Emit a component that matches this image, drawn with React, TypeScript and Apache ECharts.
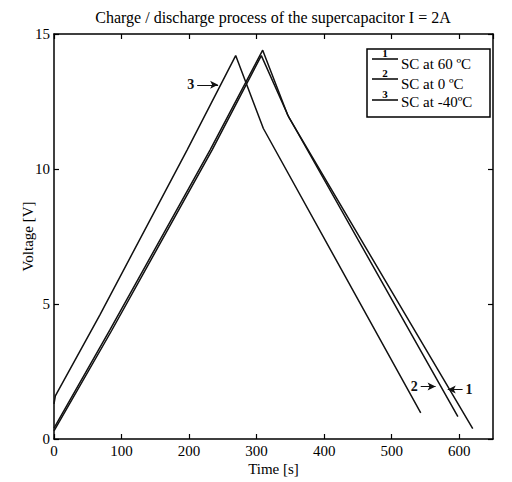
import React, { useEffect, useRef } from "react";
import * as echarts from "echarts";

const titleText = "Charge / discharge process of the supercapacitor I = 2A";
const xName = "Time [s]";
const yName = "Voltage [V]";
const legendNames = ["SC at 60 ºC", "SC at 0 ºC", "SC at -40ºC"];
const legendNums = ["1", "2", "3"];

// [time s, voltage V]
const sc60: number[][] = [[0, 0.3], [85, 4.0], [234, 10.7], [307, 14.2], [348, 11.9], [620, 0.38]];
const sc0: number[][] = [[0, 0.4], [83, 4.05], [231, 10.7], [309, 14.4], [346, 12.0], [598, 0.83]];
const scM40: number[][] = [[0, 1.3], [2, 1.6], [68, 4.6], [197, 10.7], [269, 14.2], [310, 11.5], [543, 0.97]];

// annotation arrows: [label, x1, x2, y]
const arrow1 = ["1", 605, 583, 1.83];
const arrow2 = ["2", 543, 565, 1.94];
const arrow3 = ["3", 212, 243, 13.12];

const serif = "Liberation Serif";

function mk(a: any[]) {
  return {
    silent: true,
    symbol: ["none", "arrow"],
    symbolSize: [6, 8],
    lineStyle: { color: "#111", width: 1, type: "solid" },
    label: { show: true, position: "start", formatter: a[0], color: "#111", fontFamily: serif, fontSize: 14, fontWeight: "bold", distance: 3 },
    emphasis: { disabled: true },
    data: [[{ coord: [a[1], a[3]] }, { coord: [a[2], a[3]] }]],
  };
}

export default function App() {
  const ref = useRef<HTMLDivElement>(null);
  useEffect(() => {
    const chart = echarts.init(ref.current!, null, { renderer: "svg" });
    const lineS = (name: string, data: number[][], a: any[]) => ({
      name,
      type: "line",
      data,
      showSymbol: false,
      symbol: "none",
      lineStyle: { color: "#111", width: 1.5 },
      itemStyle: { color: "#111" },
      silent: true,
      markLine: mk(a),
    });
    const axisCommon = {
      axisLine: { show: true, onZero: false, lineStyle: { color: "#000", width: 1.5 } },
      axisTick: { show: true, inside: true, length: 5, lineStyle: { color: "#000", width: 1.2 } },
      splitLine: { show: false },
    };
    const lbl = { color: "#000", fontFamily: serif, fontSize: 15 };
    const rows = [59, 79, 100];
    const textY = [64, 84, 102];
    const graphics: any[] = [
      {
        type: "text",
        x: 273,
        y: 17,
        style: { text: titleText, fontFamily: serif, fontSize: 16, fill: "#000", textAlign: "center", textVerticalAlign: "middle" },
      },
      {
        type: "rect",
        shape: { x: 367, y: 49, width: 123, height: 68 },
        style: { fill: "#fff", stroke: "#000", lineWidth: 1.5 },
        z: 10,
      },
    ];
    rows.forEach((ry, i) => {
      graphics.push({ type: "line", shape: { x1: 372, y1: ry, x2: 398, y2: ry }, style: { stroke: "#000", lineWidth: 1.5 }, z: 11 });
      graphics.push({
        type: "text", x: 385, y: ry - 6, z: 11,
        style: { text: legendNums[i], fontFamily: serif, fontSize: 11, fontWeight: "bold", fill: "#000", textAlign: "center", textVerticalAlign: "middle" },
      });
      graphics.push({
        type: "text", x: 401, y: textY[i], z: 11,
        style: { text: legendNames[i], fontFamily: serif, fontSize: 15, fill: "#000", textAlign: "left", textVerticalAlign: "middle" },
      });
    });
    chart.setOption({
      animation: false,
      backgroundColor: "#fff",
      grid: { left: 54, right: 19, top: 34, bottom: 43 },
      xAxis: [
        {
          type: "value", min: 0, max: 650, interval: 100, position: "bottom",
          name: xName, nameLocation: "middle", nameGap: 22, nameMoveOverlap: false,
          nameTextStyle: { color: "#000", fontFamily: serif, fontSize: 15 },
          axisLabel: { ...lbl, margin: 4, showMaxLabel: false, formatter: (v: number) => (v % 100 === 0 ? String(v) : "") },
          ...axisCommon,
        },
        {
          type: "value", min: 0, max: 650, interval: 100, position: "top",
          axisLabel: { show: false },
          ...axisCommon,
        },
      ],
      yAxis: [
        {
          type: "value", min: 0, max: 15, interval: 5, position: "left",
          name: yName, nameLocation: "middle", nameGap: 19, nameRotate: 90, nameMoveOverlap: false,
          nameTextStyle: { color: "#000", fontFamily: serif, fontSize: 15 },
          axisLabel: { ...lbl, margin: 4 },
          ...axisCommon,
        },
        {
          type: "value", min: 0, max: 15, interval: 5, position: "right",
          axisLabel: { show: false },
          ...axisCommon,
        },
      ],
      graphic: graphics,
      series: [
        lineS(legendNames[0], sc60, arrow1),
        lineS(legendNames[1], sc0, arrow2),
        lineS(legendNames[2], scM40, arrow3),
      ],
    });
    return () => chart.dispose();
  }, []);
  return <div ref={ref} style={{ position: "fixed", left: 0, top: 0, width: 512, height: 482 }} />;
}
